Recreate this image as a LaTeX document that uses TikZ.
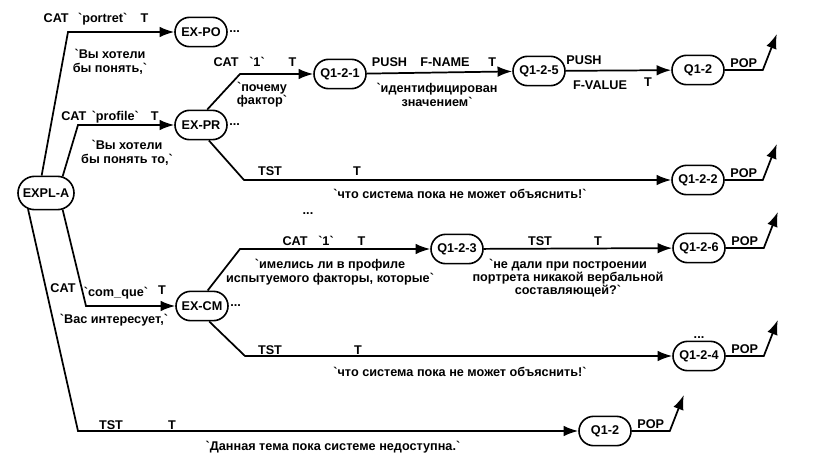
\documentclass[tikz,border=0pt]{standalone}
\usepackage{fontspec}
\setmainfont{Liberation Sans}[Ligatures=TeXOff]
\usepackage{tikz}
\usetikzlibrary{shapes.misc,arrows.meta}

\begin{document}
\begin{tikzpicture}[x=0.75pt, y=-0.75pt,
	every node/.style={font=\bfseries\fontsize{9.5}{10}\selectfont, inner sep=1pt, align=center},
	state/.style={draw, rounded rectangle, line width=1.2pt, minimum width=43pt, minimum height=22pt, inner sep=2pt},
	conn/.style={line width=1.3pt, -{Latex[length=11pt,width=8pt]}}]
				\useasboundingbox (0,0) rectangle (834,460);
				%states
				\node[state, minimum width=46pt, minimum height=25pt] (explA) at (46,193) {EXPL-A};
				\node[state] (expo) at (201,32) {EX-PO};
				\node[state] (expr) at (201,125) {EX-PR};
				\node[state] (excm) at (202,306) {EX-CM};
				\node[state] (q121) at (340,74) {Q1-2-1};
				\node[state] (q125) at (539,71) {Q1-2-5};
				\node[state] (q12a) at (698,70) {Q1-2};
				\node[state] (q122) at (698,180) {Q1-2-2};
				\node[state] (q123) at (457,249) {Q1-2-3};
				\node[state] (q126) at (699,248) {Q1-2-6};
				\node[state] (q124) at (699,356) {Q1-2-4};
				\node[state] (q12b) at (605,431) {Q1-2};
				%dots
				\node[right] (dotsPO) at (expo.east) {...};
				\node[right] (dotsPR) at (expr.east) {...};
				\node[right] (dotsCM) at (excm.east) {...};
				\node[above] (dotsQ) at (q124.north) {...};
				\node (dotsMid) at (308,214) {...};
				%bends
				\coordinate (b1) at (68,32);
				\coordinate (b2) at (78,125);
				\coordinate (b3) at (86,306);
				\coordinate (b4) at (78,431);
				\coordinate (b5) at (240,74);
				\coordinate (b6) at (244,180);
				\coordinate (b7) at (240,249);
				\coordinate (b8) at (245,356);
				%arcs from EXPL-A
				\draw[conn] (explA.104) -- (b1) -- (expo);
				\draw[conn] (explA.45) -- (b2) -- (expr);
				\draw[conn] (explA.-45) -- (b3) -- (excm);
				\draw[conn] (explA.222) -- (b4) -- (q12b);
				%arcs from EX-PR and EX-CM
				\draw[conn] (expr.68) -- (b5) -- (q121);
				\draw[conn] (q121) -- (q125);
				\draw[conn] (q125) -- (q12a);
				\draw[conn] (expr.-63) -- (b6) -- (q122);
				\draw[conn] (excm.70) -- (b7) -- (q123);
				\draw[conn] (q123) -- (q126);
				\draw[conn] (excm.-65) -- (b8) -- (q124);
				%pop
				\foreach \n in {q12a,q122,q126,q124,q12b}
					\draw[conn] (\n.east) -- ++(38,0) node[midway, above] (pop\n) {POP} -- ++(14,-36);
				%labels
				\node (labPO) at (96,19) {CAT\hspace{7pt}`portret`\hspace{10pt}T};
				\node (txtPO) at (110,62) {`Вы хотели\\бы понять,`};
				\node (labPR) at (110,117) {CAT\hspace{4pt}`profile`\hspace{9pt}T};
				\node (txtPR) at (127,153) {`Вы хотели\\бы понять то,`};
				\node (lab121) at (255,62) {CAT\hspace{8pt}`1`\hspace{18pt}T};
				\node (txt121) at (262,95) {`почему\\фактор`};
				\node (lab125) at (434,62) {PUSH\hspace{10pt}F-NAME\hspace{14pt}T};
				\node (txt125) at (437,95) {`идентифицирован\\значением`};
				\node (pushA) at (584,60) {PUSH};
				\node (fval) at (600,85) {F-VALUE};
				\node (tA) at (648,82) {T};
				\node (tst122) at (270,171) {TST};
				\node (t122) at (357,171) {T};
				\node (txt122) at (460,194) {`что система пока не может объяснить!`};
				\node (lab123) at (324,241) {CAT\hspace{8pt}`1`\hspace{18pt}T};
				\node (txt123) at (330,272) {`имелись ли в профиле\\испытуемого факторы, которые`};
				\node (tst126) at (540,241) {TST};
				\node (t126) at (598,241) {T};
				\node (txt126) at (568,278) {`не дали при построении\\портрета никакой вербальной\\составляющей?`};
				\node (catCM) at (63,288) {CAT};
				\node (queCM) at (116,293) {`com\_que`};
				\node (tCM) at (162,290) {T};
				\node (txtCM) at (114,320) {`Вас интересует,`};
				\node (tst124) at (270,350) {TST};
				\node (t124) at (358,350) {T};
				\node (txt124) at (460,372) {`что система пока не может объяснить!`};
				\node (tst12) at (111,425) {TST};
				\node (t12) at (172,425) {T};
				\node (txt12) at (333,447) {`Данная тема пока системе недоступна.`};
			\end{tikzpicture}
\end{document}
